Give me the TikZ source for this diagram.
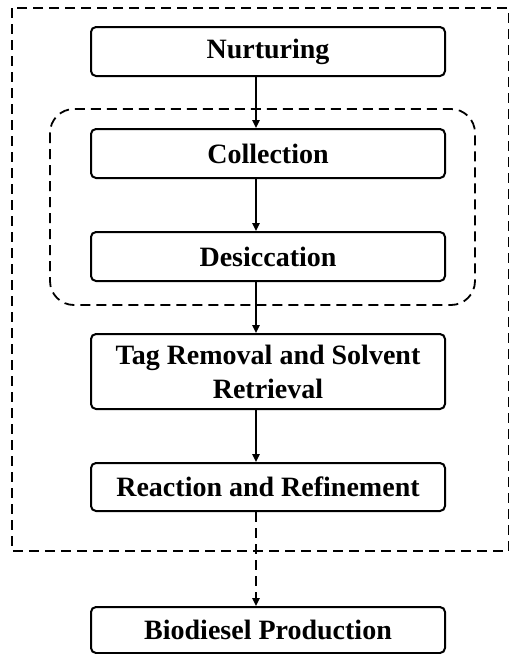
\documentclass[tikz,border=0pt]{standalone}
\usepackage{fontspec}
\setmainfont{Liberation Serif}
\usetikzlibrary{arrows.meta}
\tikzset{
  stage/.style={draw, line width=1pt, rounded corners=2.5pt, minimum width=177pt,
    minimum height=24.5pt, inner sep=0pt, align=center,
    font=\fontsize{14}{17}\selectfont\bfseries},
  flow/.style={line width=0.9pt, -{Triangle[length=4pt,width=3.6pt]}},
  dashflow/.style={flow, dash pattern=on 5pt off 3pt},
  frame/.style={line width=0.9pt, dash pattern=on 5pt off 3pt}
}
\begin{document}
\begin{tikzpicture}[x=0.5pt,y=-0.5pt]
  \useasboundingbox (0,0) rectangle (510,654);
  % outer dashed frame
  \draw[frame] (12,8) rectangle (508.5,551);
  % inner dashed group around collection and desiccation
  \draw[frame, rounded corners=12pt] (50,109) rectangle (475,305);
  % process stages
  \node[stage] (nurt) at (268,51.5) {Nurturing};
  \node[stage] (coll) at (268,153.5) {Collection};
  \node[stage] (desi) at (268,256.5) {Desiccation};
  \node[stage, minimum height=37.5pt] (tag) at (268,371.5) {Tag Removal and Solvent\\Retrieval};
  \node[stage, minimum height=24pt] (reac) at (268,487) {Reaction and Refinement};
  \node[stage, minimum height=23pt] (bio) at (268,630) {Biodiesel Production};
  % connector axis
  \coordinate (ax) at (256,0);
  \draw[flow] (nurt.south -| ax) -- (coll.north -| ax);
  \draw[flow] (coll.south -| ax) -- (desi.north -| ax);
  \draw[flow] (desi.south -| ax) -- (tag.north -| ax);
  \draw[flow] (tag.south -| ax) -- (reac.north -| ax);
  \draw[dashflow] (reac.south -| ax) -- (bio.north -| ax);
\end{tikzpicture}
\end{document}
